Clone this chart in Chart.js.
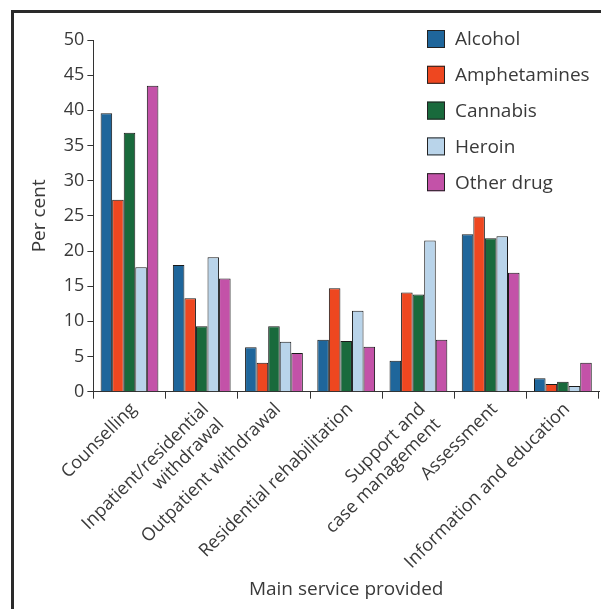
<!DOCTYPE html>
<html>
<head>
<meta charset="utf-8">
<script src="https://cdn.jsdelivr.net/npm/chart.js@4/dist/chart.umd.min.js"></script>
<style>
  html, body { margin: 0; padding: 0; background: #ffffff; overflow: hidden; }
  canvas { display: block; }
</style>
</head>
<body>
<canvas id="chart" width="601" height="609"></canvas>
<script>
const categories = [
  "Counselling",
  ["Inpatient/residential", "withdrawal"],
  "Outpatient withdrawal",
  "Residential rehabilitation",
  ["Support and", "case management"],
  "Assessment",
  "Information and education"
];
const seriesNames = ["Alcohol", "Amphetamines", "Cannabis", "Heroin", "Other drug"];
const seriesColors = ["#1f669b", "#ee4720", "#196a3c", "#b9d4ea", "#c352a8"];

const alcohol = [39.6, 18.0, 6.3, 7.4, 4.4, 22.4, 1.9];
const amphetamines = [27.3, 13.3, 4.1, 14.7, 14.1, 24.9, 1.1];
const cannabis = [36.8, 9.3, 9.3, 7.2, 13.8, 21.8, 1.4];
const heroin = [17.7, 19.1, 7.1, 11.5, 21.5, 22.1, 0.8];
const otherDrug = [43.5, 16.1, 5.5, 6.4, 7.4, 16.9, 4.1];

const yTicks = [0, 5, 10, 15, 20, 25, 30, 35, 40, 45, 50];

const textColor = "#3a3a3a";
const fontFamily = "'Open Sans', 'Noto Sans', sans-serif";

// thick frame on the top and left edges of the figure
const figureFrame = {
  id: "figureFrame",
  beforeDraw(chart) {
    const ctx = chart.ctx;
    ctx.save();
    ctx.strokeStyle = "#2a2a2a";
    ctx.lineWidth = 3;
    ctx.beginPath();
    ctx.moveTo(12.5, chart.height);
    ctx.lineTo(12.5, 11.5);
    ctx.lineTo(chart.width, 11.5);
    ctx.stroke();
    ctx.restore();
  }
};

// legend drawn inside the plot, top right, one entry per row
const insideLegend = {
  id: "insideLegend",
  afterDraw(chart) {
    const ctx = chart.ctx;
    const left = 427;
    const top = 30;
    const rowGap = 35.8;
    const box = 18;
    ctx.save();
    ctx.font = "19px " + fontFamily;
    ctx.textBaseline = "middle";
    chart.data.datasets.forEach((ds, i) => {
      const y = top + i * rowGap;
      ctx.fillStyle = ds.backgroundColor;
      ctx.fillRect(left, y, box, box);
      ctx.strokeStyle = "#222222";
      ctx.lineWidth = 1;
      ctx.strokeRect(left + 0.5, y + 0.5, box - 1, box - 1);
      ctx.fillStyle = textColor;
      ctx.fillText(ds.label, left + 28, y + box / 2 + 1);
    });
    ctx.restore();
  }
};

function buildDatasets() {
  const values = [alcohol, amphetamines, cannabis, heroin, otherDrug];
  return seriesNames.map((name, i) => ({
    label: name,
    data: values[i],
    backgroundColor: seriesColors[i],
    borderColor: "#1a1a1a",
    borderWidth: 1,
    categoryPercentage: 0.8,
    barPercentage: 1.0
  }));
}

new Chart(document.getElementById("chart"), {
  type: "bar",
  data: {
    labels: categories,
    datasets: buildDatasets()
  },
  options: {
    responsive: false,
    animation: false,
    layout: {
      padding: { top: 40, right: 2, bottom: 8, left: 28 }
    },
    plugins: {
      legend: { display: false },
      tooltip: { enabled: false }
    },
    scales: {
      x: {
        // rotated labels reserve more room than they use
        afterFit(scale) {
          scale.height -= 10;
        },
        grid: {
          display: true,
          offset: true,
          drawOnChartArea: false,
          tickLength: 7,
          color: "#333333"
        },
        border: { display: true, color: "#333333", width: 1 },
        ticks: {
          color: textColor,
          font: { family: fontFamily, size: 18 },
          minRotation: 45,
          maxRotation: 45,
          autoSkip: false,
          padding: 0,
          labelOffset: 4
        },
        title: {
          display: true,
          text: "Main service provided",
          color: textColor,
          font: { family: fontFamily, size: 19 },
          padding: { top: 0, bottom: 0 }
        }
      },
      y: {
        min: 0,
        max: 50,
        afterBuildTicks(scale) {
          scale.ticks = yTicks.map((v) => ({ value: v }));
        },
        grid: {
          drawOnChartArea: false,
          tickLength: 6,
          color: "#333333"
        },
        border: { display: true, color: "#333333", width: 1 },
        ticks: {
          color: textColor,
          font: { family: fontFamily, size: 18 },
          padding: 3
        },
        title: {
          display: true,
          text: "Per cent",
          color: textColor,
          font: { family: fontFamily, size: 19 },
          padding: { top: 0, bottom: 10 }
        }
      }
    }
  },
  plugins: [figureFrame, insideLegend]
});
</script>
</body>
</html>
